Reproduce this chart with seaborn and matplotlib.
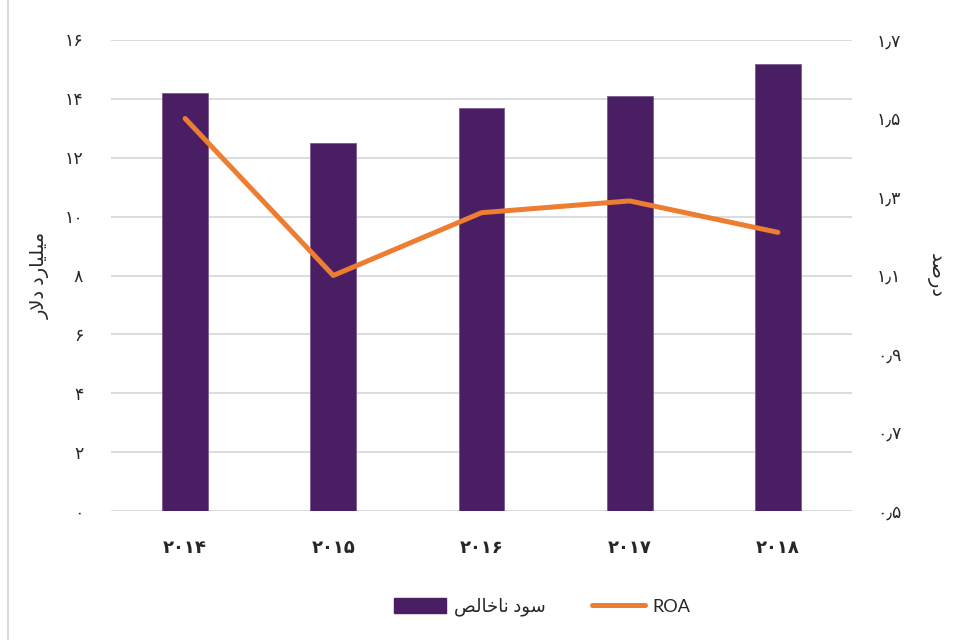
import numpy as np
import matplotlib
matplotlib.use("Agg")
import matplotlib.pyplot as plt
import seaborn as sns
from matplotlib.patches import Patch
from matplotlib.lines import Line2D

# data
years = ["2014", "2015", "2016", "2017", "2018"]
net_profit = [14.2, 12.5, 13.7, 14.1, 15.2]   # billion dollars
roa = [1.50, 1.10, 1.26, 1.29, 1.21]          # percent

left_ticks = [0, 2, 4, 6, 8, 10, 12, 14, 16]
right_ticks = [0.5, 0.7, 0.9, 1.1, 1.3, 1.5, 1.7]

# Persian text, pre-shaped (presentation forms, visual order) since matplotlib does no shaping
label_profit = "ﺺﻟﺎﺧﺎﻧ ﺩﻮﺳ"        # سود ناخالص
label_left = "ﺭﻻﺩ ﺩﺭﺎﻴﻠﻴﻣ"        # میلیارد دلار
label_right = "ﺪﺻﺭﺩ"             # درصد

fa = str.maketrans("0123456789.", "۰۱۲۳۴۵۶۷۸۹٫")

purple = "#4a1e62"
orange = "#ed7d31"
grid_c = "#d9d9d9"

sns.set_theme(style="white")
plt.rcParams['font.family'] = ['Lato', 'DejaVu Sans']

fig = plt.figure(figsize=(9.56, 6.4), dpi=100)
ax = fig.add_axes([111 / 956, 1 - 511 / 640, 741 / 956, 471 / 640])

sns.barplot(x=years, y=net_profit, color=purple, saturation=1, width=0.31,
            edgecolor="#7b5b8e", linewidth=0.6, ax=ax)
ax.set_xlim(-0.5, 4.5)
ax.set_ylim(0, 16)
ax.set_yticks(left_ticks)
ax.set_yticklabels([str(t).translate(fa) for t in left_ticks], fontsize=12.5)
ax.set_xticks(range(len(years)))
ax.set_xticklabels([y.translate(fa) for y in years], fontsize=13, fontweight="bold")
ax.yaxis.grid(True, color=grid_c, lw=1.3)
ax.set_axisbelow(True)
for s in ax.spines.values():
    s.set_visible(False)
ax.tick_params(axis="both", length=0)
ax.tick_params(axis="x", pad=20)
ax.tick_params(axis="y", pad=20)
ax.set_xlabel("")
ax.set_ylabel(label_left, fontsize=14)
ax.yaxis.set_label_coords(-0.082, 0.5)

ax2 = ax.twinx()
sns.lineplot(x=np.arange(len(years)), y=roa, color=orange, lw=3.6,
             solid_capstyle="round", solid_joinstyle="round", ax=ax2)
ax2.set_xlim(-0.5, 4.5)
ax2.set_ylim(0.5, 1.7)
ax2.set_yticks(right_ticks)
ax2.set_yticklabels([f"{t:.1f}".translate(fa) for t in right_ticks], fontsize=12.5)
ax2.grid(False)
for s in ax2.spines.values():
    s.set_visible(False)
ax2.tick_params(axis="y", length=0, pad=18)
ax2.set_ylabel(label_right, fontsize=14, rotation=270)
ax2.yaxis.set_label_coords(1.122, 0.5)

handles = [Patch(facecolor=purple, edgecolor=purple),
           Line2D([0], [0], color=orange, lw=3.6, solid_capstyle="round")]
fig.legend(handles, [label_profit, "ROA"], loc="center",
           bbox_to_anchor=(542 / 956, 1 - 607 / 640), ncol=2, frameon=False,
           fontsize=13, handlelength=2.9, handleheight=0.9, handletextpad=0.4,
           columnspacing=2.6)

# thin frame line on the left edge
fig.add_artist(Line2D([7.5 / 956, 7.5 / 956], [0, 1], color=grid_c, lw=1.5,
                      transform=fig.transFigure))

fig.savefig("out.png", dpi=100)
